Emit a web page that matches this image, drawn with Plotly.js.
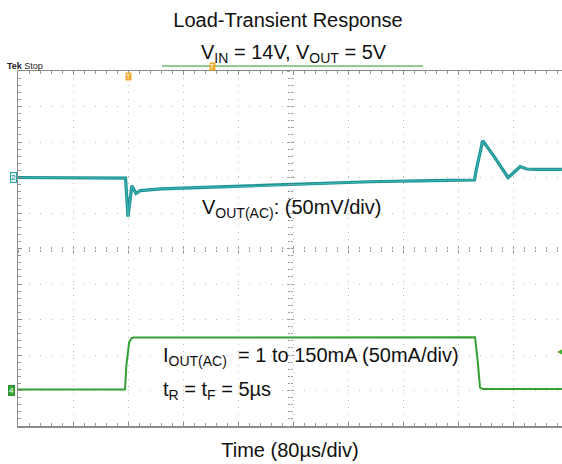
<!DOCTYPE html>
<html>
<head>
<meta charset="utf-8">
<script src="https://cdn.plot.ly/plotly-3.0.1.min.js"></script>
<style>html,body{margin:0;padding:0;background:#fff;}#chart{width:562px;height:464px;}</style>
</head>
<body>
<div id="chart"></div>
<script>
// Time in scope divisions (80 µs/div), vertical values in screen divisions (centre = 0)
const voutTime = [0, 1.0, 1.9, 1.955, 2.0, 2.07, 2.145, 2.22, 2.6, 3.3, 4.2, 5.1, 6.4, 7.5, 8.3, 8.33, 8.45, 8.67, 8.91, 9.0, 9.13, 9.25, 9.4, 9.89];
const voutDiv  = [2.0, 2.0, 2.0, 1.98, 0.90, 1.77, 1.55, 1.63, 1.68, 1.72, 1.75, 1.81, 1.88, 1.91, 1.93, 2.2, 3.04, 2.56, 2.0, 2.12, 2.31, 2.24, 2.23, 2.23];
const ioutTime = [0, 1.0, 1.945, 1.97, 2.02, 2.06, 2.1, 3.0, 5.0, 7.0, 8.31, 8.36, 8.40, 8.45, 9.0, 9.89];
const ioutDiv  = [-3.97, -3.97, -3.97, -3.3, -2.65, -2.53, -2.51, -2.51, -2.5, -2.5, -2.5, -3.2, -3.92, -3.96, -3.96, -3.96];

const titleText = 'Load-Transient Response';
const subtitleText = 'V<sub>IN</sub> = 14V, V<sub>OUT</sub> = 5V';
const voutLabel = 'V<sub>OUT(AC)</sub>: (50mV/div)';
const ioutLabel = 'I<sub>OUT(AC)</sub>  = 1 to 150mA (50mA/div)';
const trLabel = 't<sub>R</sub> = t<sub>F</sub> = 5µs';
const xLabel = 'Time (80µs/div)';

// pixel helpers for the plot frame (left 18, right 562, top 71, bottom 426)
const PL = 18, PW = 544, PB = 426, PH = 355;
const px = v => (v - PL) / PW;
const py = v => (PB - v) / PH;

const FONT = 'Liberation Sans, Arial, sans-serif';
const FS = 20;

const traces = [
  {x: voutTime, y: voutDiv, mode: 'lines', line: {color: '#1e9090', width: 3.2}, hoverinfo: 'skip'},
  {x: voutTime, y: voutDiv, mode: 'lines', line: {color: '#3cbaba', width: 1}, hoverinfo: 'skip', xaxis: 'x2', yaxis: 'y2'},
  {x: ioutTime, y: ioutDiv, mode: 'lines', line: {color: '#34a034', width: 2}, hoverinfo: 'skip', xaxis: 'x3', yaxis: 'y3'}
];

const xr = [0, PW / 55];
const yr = [-5, 5];
const centerTick = (dir, pos, isX) => ({
  overlaying: isX ? 'x' : 'y', range: isX ? xr : yr, anchor: 'free', position: pos,
  showgrid: false, zeroline: false, showline: false, showticklabels: false,
  ticks: dir, ticklen: 3, tickcolor: '#9a9a9a', dtick: 1, tick0: 0,
  minor: {dtick: 0.2, tick0: 0, ticks: dir, ticklen: 2, tickcolor: '#9a9a9a'}
});

const layout = {
  width: 562, height: 464,
  margin: {l: PL, r: 0, t: 71, b: 464 - PB},
  paper_bgcolor: '#ffffff', plot_bgcolor: '#ffffff',
  showlegend: false,
  font: {family: FONT, color: '#111111'},
  title: {text: titleText, font: {family: FONT, size: FS, color: '#111111'},
          x: 288 / 562, xanchor: 'center', xref: 'container', y: 1 - 20 / 464, yanchor: 'middle', yref: 'container'},
  xaxis: {
    range: xr, dtick: 1, tick0: 0, showgrid: true, gridcolor: '#bcbcbc', griddash: '1px,6px', gridwidth: 1,
    zeroline: false, showticklabels: false, showline: true, linecolor: '#8c8c8c', linewidth: 1.5, mirror: 'allticks',
    ticks: 'inside', ticklen: 4, tickcolor: '#8c8c8c',
    minor: {dtick: 0.2, tick0: 0, ticks: 'inside', ticklen: 3, tickcolor: '#9a9a9a'},
    title: {text: xLabel, font: {family: FONT, size: FS, color: '#111111'}, standoff: 16}
  },
  yaxis: {
    range: yr, dtick: 1, tick0: -5, showgrid: true, gridcolor: '#bcbcbc', griddash: '1px,10px', gridwidth: 1,
    zeroline: false, showticklabels: false, showline: true, linecolor: '#8c8c8c', linewidth: 1.5,
    ticks: 'inside', ticklen: 4, tickcolor: '#8c8c8c',
    minor: {dtick: 0.2, tick0: 0, ticks: 'inside', ticklen: 3, tickcolor: '#9a9a9a'}
  },
  xaxis2: centerTick('inside', 0.5, true),
  yaxis2: centerTick('inside', 0.5, false),
  xaxis3: centerTick('outside', 0.5, true),
  yaxis3: centerTick('outside', 0.5, false),
  shapes: [
    {type: 'line', xref: 'paper', yref: 'paper', x0: px(162), x1: px(423), y0: py(66), y1: py(66),
     line: {color: '#92cc92', width: 2}}
  ],
  annotations: [
    {text: subtitleText, xref: 'paper', yref: 'paper', x: px(199), y: py(53), xanchor: 'left', yanchor: 'middle',
     showarrow: false, font: {family: FONT, size: FS, color: '#111111'}},
    {text: voutLabel, xref: 'paper', yref: 'paper', x: px(200), y: py(208), xanchor: 'left', yanchor: 'middle',
     showarrow: false, font: {family: FONT, size: FS, color: '#111111'}},
    {text: ioutLabel, xref: 'paper', yref: 'paper', x: px(161), y: py(356), xanchor: 'left', yanchor: 'middle',
     showarrow: false, font: {family: FONT, size: FS, color: '#111111'}},
    {text: trLabel, xref: 'paper', yref: 'paper', x: px(161), y: py(390), xanchor: 'left', yanchor: 'middle',
     showarrow: false, font: {family: FONT, size: FS, color: '#111111'}},
    {text: '<b>Tek</b> Stop', xref: 'paper', yref: 'paper', x: px(5), y: py(66), xanchor: 'left', yanchor: 'middle',
     showarrow: false, font: {family: FONT, size: 9, color: '#222222'}},
    {text: '2', xref: 'paper', yref: 'paper', x: px(13), y: py(177), xanchor: 'center', yanchor: 'middle',
     showarrow: false, font: {family: FONT, size: 8, color: '#1b7f7f'}, bgcolor: '#d9f3f3', bordercolor: '#2aa3a3', borderwidth: 1, borderpad: 0},
    {text: '4', xref: 'paper', yref: 'paper', x: px(11), y: py(390), xanchor: 'center', yanchor: 'middle',
     showarrow: false, font: {family: FONT, size: 8, color: '#ffffff'}, bgcolor: '#3aa83a', bordercolor: '#2e8e2e', borderwidth: 1, borderpad: 0},
    {text: '◀', xref: 'paper', yref: 'paper', x: px(560), y: py(351), xanchor: 'center', yanchor: 'middle',
     showarrow: false, font: {family: FONT, size: 8, color: '#3aa83a'}},
    {text: 'T', xref: 'paper', yref: 'paper', x: px(128), y: py(77), xanchor: 'center', yanchor: 'middle',
     showarrow: false, font: {family: FONT, size: 7, color: '#ffffff'}, bgcolor: '#f0a82c', borderpad: 0},
    {text: 'T', xref: 'paper', yref: 'paper', x: px(212), y: py(66), xanchor: 'center', yanchor: 'middle',
     showarrow: false, font: {family: FONT, size: 7, color: '#ffffff'}, bgcolor: '#f0a82c', borderpad: 0}
  ]
};

Plotly.newPlot('chart', traces, layout, {staticPlot: true, displayModeBar: false});
</script>
</body>
</html>
